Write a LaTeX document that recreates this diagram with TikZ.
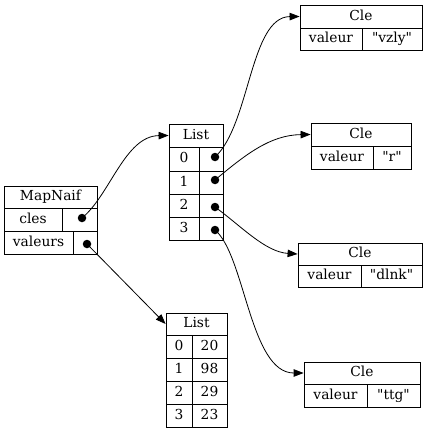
\documentclass[tikz,border=0pt]{standalone}
\usepackage{fontspec}
\newfontfamily\dvs{DejaVu Serif}
\usetikzlibrary{arrows.meta}
\begin{document}
\begin{tikzpicture}[x=1pt,y=-1pt,
  cell/.style={draw, line width=0.8pt, inner sep=0pt, font=\dvs\fontsize{13.8}{15}\selectfont, text height=9.8pt, text depth=2.6pt},
  ptr/.style={line width=0.8pt, -{Triangle[length=10pt,width=7.5pt]}},
  dotc/.style={circle, fill, inner sep=0pt, minimum size=8.5pt}]
\useasboundingbox (0,0) rectangle (427,433);
% MapNaif
\node[cell, minimum width=93pt, minimum height=22pt] (mhead) at (50.5,197) {MapNaif};
\node[cell, minimum width=58pt, minimum height=23pt] (mcles) at (33,219.5) {cles};
\node[cell, minimum width=35pt, minimum height=23pt] (mclesp) at (79.5,219.5) {};
\node[cell, minimum width=69pt, minimum height=23pt] (mval) at (38.5,242.5) {valeurs};
\node[cell, minimum width=24pt, minimum height=23pt] (mvalp) at (85,242.5) {};
% List 1
\node[cell, minimum width=54pt, minimum height=23pt] (lahead) at (196,135.5) {List};
\node[cell, minimum width=30pt, minimum height=24pt] (la0) at (184,159) {0};
\node[cell, minimum width=24pt, minimum height=24pt] (la0p) at (211,159) {};
\node[cell, minimum width=30pt, minimum height=23pt] (la1) at (184,182.5) {1};
\node[cell, minimum width=24pt, minimum height=23pt] (la1p) at (211,182.5) {};
\node[cell, minimum width=30pt, minimum height=23pt] (la2) at (184,205.5) {2};
\node[cell, minimum width=24pt, minimum height=23pt] (la2p) at (211,205.5) {};
\node[cell, minimum width=30pt, minimum height=23pt] (la3) at (184,228.5) {3};
\node[cell, minimum width=24pt, minimum height=23pt] (la3p) at (211,228.5) {};
% List 2
\node[cell, minimum width=61pt, minimum height=22pt] (lbhead) at (196.5,324) {List};
\node[cell, minimum width=26pt, minimum height=23pt] (lb0) at (179,346.5) {0};
\node[cell, minimum width=35pt, minimum height=23pt] (lb0v) at (209.5,346.5) {20};
\node[cell, minimum width=26pt, minimum height=23pt] (lb1) at (179,369.5) {1};
\node[cell, minimum width=35pt, minimum height=23pt] (lb1v) at (209.5,369.5) {98};
\node[cell, minimum width=26pt, minimum height=23pt] (lb2) at (179,392.5) {2};
\node[cell, minimum width=35pt, minimum height=23pt] (lb2v) at (209.5,392.5) {29};
\node[cell, minimum width=26pt, minimum height=23pt] (lb3) at (179,415.5) {3};
\node[cell, minimum width=35pt, minimum height=23pt] (lb3v) at (209.5,415.5) {23};
% Cle 1
\node[cell, minimum width=122pt, minimum height=23pt] (c1head) at (361,16.5) {Cle};
\node[cell, minimum width=62pt, minimum height=22pt] (c1k) at (331,39) {valeur};
\node[cell, minimum width=60pt, minimum height=22pt] (c1v) at (392,39) {"vzly"};
% Cle 2
\node[cell, minimum width=100pt, minimum height=23pt] (c2head) at (361,134.5) {Cle};
\node[cell, minimum width=62pt, minimum height=23pt] (c2k) at (342,157.5) {valeur};
\node[cell, minimum width=38pt, minimum height=23pt] (c2v) at (392,157.5) {"r"};
% Cle 3
\node[cell, minimum width=124pt, minimum height=22pt] (c3head) at (360,254) {Cle};
\node[cell, minimum width=63pt, minimum height=22pt] (c3k) at (329.5,276) {valeur};
\node[cell, minimum width=61pt, minimum height=22pt] (c3v) at (391.5,276) {"dlnk"};
% Cle 4
\node[cell, minimum width=116pt, minimum height=22pt] (c4head) at (362,373) {Cle};
\node[cell, minimum width=63pt, minimum height=23pt] (c4k) at (335.5,395.5) {valeur};
\node[cell, minimum width=53pt, minimum height=23pt] (c4v) at (393.5,395.5) {"ttg"};
% dots
\node[dotc] (dcles) at (82,218) {};
\node[dotc] (dval) at (87,244) {};
\node[dotc] (d0) at (215,157) {};
\node[dotc] (d1) at (215,180) {};
\node[dotc] (d2) at (215,207) {};
\node[dotc] (d3) at (215,230) {};
% connectors
\draw[ptr] (dcles.center) .. controls (110,195) and (125,136) .. (lahead.west);
\draw[ptr] (dval.center) -- (lbhead.west);
\draw[ptr] (d0.center) .. controls (250,125) and (250,17) .. (c1head.west);
\draw[ptr] (d1.center) .. controls (245,155) and (270,135) .. (c2head.west);
\draw[ptr] (d2.center) .. controls (240,225) and (265,252) .. (c3head.west);
\draw[ptr] (d3.center) .. controls (245,255) and (250,373) .. (c4head.west);
\end{tikzpicture}
\end{document}
